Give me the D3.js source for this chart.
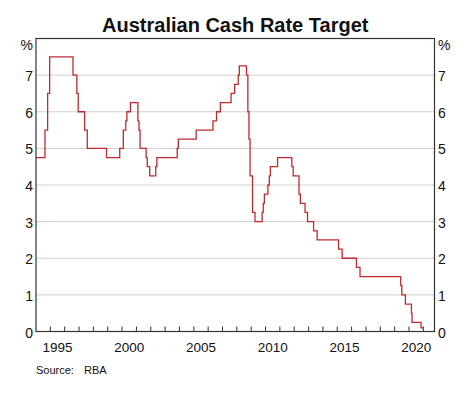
<!DOCTYPE html>
<html>
<head>
<meta charset="utf-8">
<script src="https://cdn.jsdelivr.net/npm/d3@7"></script>
<style>
  html, body { margin: 0; padding: 0; background: #fff; }
  svg { display: block; }
  text { font-family: "Liberation Sans", Arial, sans-serif; fill: #111; }
</style>
</head>
<body>
<svg id="chart" width="474" height="394"></svg>
<script>
// ---- Data (RBA cash rate target, date of change and new level, %) ----
const changeDates = [
  "1994-01-01","1994-08-17","1994-10-24","1994-12-14","1996-07-31","1996-11-06","1996-12-11",
  "1997-05-23","1997-07-30","1998-12-02","1999-11-03","2000-02-02","2000-04-05","2000-05-03",
  "2000-08-02","2001-02-07","2001-03-07","2001-04-04","2001-09-05","2001-10-03","2001-12-05",
  "2002-05-08","2002-06-05","2003-11-05","2003-12-03","2005-03-02","2006-05-03","2006-08-02",
  "2006-11-08","2007-08-08","2007-11-07","2008-02-06","2008-03-05","2008-09-03","2008-10-08",
  "2008-11-05","2008-12-03","2009-02-04","2009-04-08","2009-10-07","2009-11-04","2009-12-02",
  "2010-03-03","2010-04-07","2010-05-05","2010-11-03","2011-11-02","2011-12-07","2012-05-02",
  "2012-06-06","2012-10-03","2012-12-05","2013-05-08","2013-08-07","2015-02-04","2015-05-06",
  "2016-05-04","2016-08-03","2019-06-05","2019-07-03","2019-10-02","2020-03-04","2020-03-19",
  "2020-11-04","2021-01-06"
];
const cashRates = [
  4.75,5.50,6.50,7.50,7.00,6.50,6.00,
  5.50,5.00,4.75,5.00,5.50,5.75,6.00,
  6.25,5.75,5.50,5.00,4.75,4.50,4.25,
  4.50,4.75,5.00,5.25,5.50,5.75,6.00,
  6.25,6.50,6.75,7.00,7.25,7.00,6.00,
  5.25,4.25,3.25,3.00,3.25,3.50,3.75,
  4.00,4.25,4.50,4.75,4.50,4.25,3.75,
  3.50,3.25,3.00,2.75,2.50,2.25,2.00,
  1.75,1.50,1.25,1.00,0.75,0.50,0.25,
  0.10,0.10
];
const yTicks = [0,1,2,3,4,5,6,7];
const yearLabels = [1995,2000,2005,2010,2015,2020];
const titleText = "Australian Cash Rate Target";
const sourceText = ["Source:", "RBA"];

// ---- Layout ----
const mLeft = 36, mRight = 434.5, mTop = 38.5, mBottom = 331.5;
const svg = d3.select("#chart");
const parse = d3.timeParse("%Y-%m-%d");
const data = changeDates.map((d, i) => ({ date: parse(d), value: cashRates[i] }));

const x = d3.scaleTime()
  .domain([new Date(1994, 0, 1), new Date(2021, 9, 12)])
  .range([mLeft, mRight]);
const y = d3.scaleLinear().domain([0, 8]).range([mBottom, mTop]);

// gridlines
svg.append("g").selectAll("line")
  .data(yTicks.filter(d => d > 0))
  .join("line")
  .attr("x1", mLeft).attr("x2", mRight)
  .attr("y1", d => y(d)).attr("y2", d => y(d))
  .attr("stroke", "#cfcfcf").attr("stroke-width", 1);

// series
const line = d3.line()
  .x(d => x(d.date)).y(d => y(d.value))
  .curve(d3.curveStepAfter);
svg.append("path")
  .datum(data)
  .attr("d", line)
  .attr("fill", "none")
  .attr("stroke", "#be2a2e")
  .attr("stroke-width", 1.3);

// year ticks (inside, upward)
const yearTicks = d3.timeYear.range(new Date(1995, 0, 1), new Date(2021, 1, 1));
svg.append("g").selectAll("line")
  .data(yearTicks)
  .join("line")
  .attr("x1", d => x(d)).attr("x2", d => x(d))
  .attr("y1", mBottom).attr("y2", mBottom - 5)
  .attr("stroke", "#333").attr("stroke-width", 1);

// frame
svg.append("rect")
  .attr("x", mLeft).attr("y", mTop)
  .attr("width", mRight - mLeft).attr("height", mBottom - mTop)
  .attr("fill", "none").attr("stroke", "#333").attr("stroke-width", 1.2);

// year labels (centred on mid-year)
svg.append("g").selectAll("text")
  .data(yearLabels)
  .join("text")
  .attr("x", d => x(new Date(d, 6, 2)))
  .attr("y", 351.5)
  .attr("text-anchor", "middle")
  .attr("font-size", "13.5px")
  .text(d => d);

// y labels left & right
svg.append("g").selectAll("text")
  .data(yTicks)
  .join("text")
  .attr("x", mLeft - 3).attr("y", d => y(d) + 6)
  .attr("text-anchor", "end")
  .attr("font-size", "14px")
  .text(d => d);
svg.append("g").selectAll("text")
  .data(yTicks)
  .join("text")
  .attr("x", mRight + 3.5).attr("y", d => y(d) + 6)
  .attr("text-anchor", "start")
  .attr("font-size", "14px")
  .text(d => d);

// % units
svg.append("text").attr("x", mLeft - 3).attr("y", 50)
  .attr("text-anchor", "end").attr("font-size", "14px").text("%");
svg.append("text").attr("x", mRight + 3.5).attr("y", 50)
  .attr("text-anchor", "start").attr("font-size", "14px").text("%");

// title
svg.append("text")
  .attr("x", (mLeft + mRight) / 2).attr("y", 32)
  .attr("text-anchor", "middle")
  .attr("font-size", "20px").attr("font-weight", "bold")
  .text(titleText);

// source
svg.append("text").attr("x", 36).attr("y", 373.5)
  .attr("font-size", "11px").text(sourceText[0]);
svg.append("text").attr("x", 84).attr("y", 373.5)
  .attr("font-size", "11px").text(sourceText[1]);
</script>
</body>
</html>
